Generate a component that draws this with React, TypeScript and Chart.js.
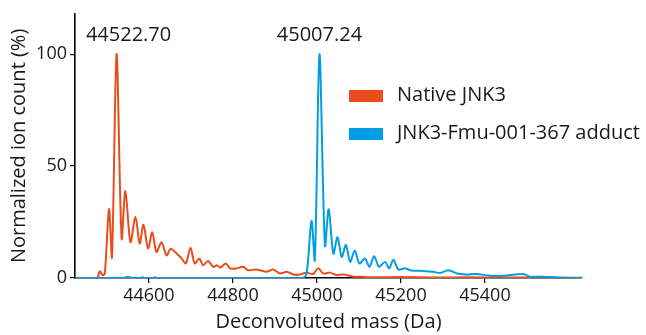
import React, { useEffect, useRef } from "react";
import { Chart, registerables } from "chart.js";

Chart.register(...registerables);

const nativeMass = [
  44424, 44476, 44483, 44490, 44495, 44505, 44512, 44523, 44535, 44544, 44556,
  44568, 44578, 44587, 44598, 44608, 44618, 44630, 44642, 44652, 44666, 44678,
  44688, 44699, 44709, 44720, 44729, 44741, 44753, 44762, 44770, 44783, 44793,
  44809, 44824, 44836, 44855, 44864, 44880, 44896, 44912, 44928, 44944, 44960,
  44975, 44991, 45003, 45015, 45031, 45047, 45063, 45086, 45102, 45130, 45200,
  45280, 45360, 45450, 45540, 45631,
];
const nativeIntensity = [
  0, 0, 3, 1.3, 2, 30.8, 9.3, 100, 17.6, 38.8, 16,
  27.3, 15.4, 23.8, 13.2, 20.4, 11.6, 16, 10.1, 13.1, 10.9, 8.7,
  6.5, 13.5, 6.5, 8.7, 5.7, 7.6, 5, 5.7, 4.7, 6.5, 4.3,
  4.3, 5, 3.5, 3.8, 3.5, 2.8, 3.8, 2, 2.8, 1.6, 1.6,
  2.4, 1.8, 4.3, 2, 2.4, 1.3, 1.6, 0.6, 0.6, 0.3, 0.4,
  0.2, 0.3, 0.2, 0.2, 0.1,
];

const adductMass = [
  44424, 44540, 44545, 44556, 44560, 44580, 44584, 44590, 44610, 44614, 44620,
  44964, 44975, 44987, 44995, 45006, 45019, 45028, 45039, 45049, 45059, 45069,
  45079, 45090, 45101, 45114, 45125, 45136, 45148, 45162, 45172, 45182, 45194,
  45210, 45225, 45245, 45261, 45277, 45293, 45313, 45333, 45356, 45380, 45412,
  45444, 45491, 45507, 45539, 45571, 45626, 45631,
];
const adductIntensity = [
  0, 0, 0.4, 0.3, 0, 0, 0.3, 0, 0, 0.3, 0,
  0, 1.6, 25.5, 8, 100, 14.5, 30.7, 10.9, 18.2, 9.4, 14.8,
  7.2, 12.3, 6.5, 8.7, 5, 9.7, 5, 7.2, 4.3, 8.2, 3.8,
  4.3, 3.3, 3.2, 3, 2.8, 2.2, 3.5, 2, 1.6, 1.8, 1,
  1, 1.8, 0.6, 0.6, 0.2, 0, 0,
];

const seriesLabels = ["Native JNK3", "JNK3-Fmu-001-367 adduct"];
const peakLabels = ["44522.70", "45007.24"];
const peakMass = [44523, 45006];
const peakValue = [100, 100];
const xTicks = [44600, 44800, 45000, 45200, 45400];
const yTicks = [0, 50, 100];

const ORANGE = "#E84E1B";
const BLUE = "#009FE3";
const TEXT = "#1a1a1a";
const FONT = "'Open Sans', sans-serif";

export default function App() {
  const ref = useRef<HTMLCanvasElement | null>(null);

  useEffect(() => {
    if (!ref.current) return;
    const overlay = {
      id: "overlay",
      afterDraw(chart: any) {
        const ctx = chart.ctx;
        const xs = chart.scales.x;
        const ys = chart.scales.y;
        ctx.save();
        ctx.fillStyle = TEXT;
        ctx.font = `20px ${FONT}`;
        ctx.textAlign = "center";
        ctx.textBaseline = "middle";
        const dxs = [12, 0];
        peakLabels.forEach((t, i) => {
          const px = xs.getPixelForValue(peakMass[i]) + dxs[i];
          const py = ys.getPixelForValue(peakValue[i]) - 19;
          ctx.fillText(t, px, py);
        });
        // legend
        const colors = [ORANGE, BLUE];
        const lx = 349;
        const rows = [96, 134];
        ctx.textAlign = "left";
        seriesLabels.forEach((t, i) => {
          ctx.fillStyle = colors[i];
          ctx.fillRect(lx, rows[i] - 6, 34, 12);
          ctx.fillStyle = TEXT;
          ctx.fillText(t, lx + 48, rows[i] - 1);
        });
        ctx.restore();
      },
    };

    const chart = new Chart(ref.current, {
      type: "line",
      data: {
        datasets: [
          {
            label: seriesLabels[0],
            data: nativeMass.map((m, i) => ({ x: m, y: nativeIntensity[i] })),
            borderColor: ORANGE,
            borderWidth: 2,
            pointRadius: 0,
            tension: 0.3,
            order: 1,
          },
          {
            label: seriesLabels[1],
            data: adductMass.map((m, i) => ({ x: m, y: adductIntensity[i] })),
            borderColor: BLUE,
            borderWidth: 2,
            pointRadius: 0,
            tension: 0.3,
            order: 0,
          },
        ],
      },
      options: {
        responsive: false,
        animation: false,
        layout: { padding: { left: 0, right: 64, top: 10, bottom: 1 } },
        plugins: { legend: { display: false }, tooltip: { enabled: false } },
        scales: {
          x: {
            type: "linear",
            min: 44424,
            max: 45631,
            afterBuildTicks: (axis: any) => {
              axis.ticks = xTicks.map((v) => ({ value: v }));
            },
            afterFit: (scale: any) => {
              scale.height = 56;
            },
            grid: {
              display: true,
              drawOnChartArea: false,
              drawTicks: true,
              tickLength: 5,
              color: "#000",
              lineWidth: 1.2,
            },
            border: { display: true, color: "#000", width: 1.6 },
            ticks: {
              color: TEXT,
              font: { family: FONT, size: 18 },
              padding: 2,
              maxRotation: 0,
              callback: (v: any) => String(v),
            },
            title: {
              display: true,
              text: "Deconvoluted mass (Da)",
              color: TEXT,
              font: { family: FONT, size: 20 },
              padding: { top: 0, bottom: 0 },
            },
          },
          y: {
            type: "linear",
            min: 0,
            max: 118,
            afterBuildTicks: (axis: any) => {
              axis.ticks = yTicks.map((v) => ({ value: v }));
            },
            afterFit: (scale: any) => {
              scale.width = 75;
            },
            grid: {
              display: true,
              drawOnChartArea: false,
              drawTicks: true,
              tickLength: 5,
              color: "#000",
              lineWidth: 1.2,
            },
            border: { display: true, color: "#000", width: 1.6 },
            ticks: {
              color: TEXT,
              font: { family: FONT, size: 18 },
              padding: 3,
            },
            title: {
              display: true,
              text: "Normalized ion count (%)",
              color: TEXT,
              font: { family: FONT, size: 20 },
              padding: { top: 7, bottom: 0 },
            },
          },
        },
      },
      plugins: [overlay],
    });
    return () => chart.destroy();
  }, []);

  return (
    <div style={{ position: "fixed", left: 0, top: 0, width: 646, height: 335, background: "#fff" }}>
      <canvas ref={ref} width={646} height={335} />
    </div>
  );
}
